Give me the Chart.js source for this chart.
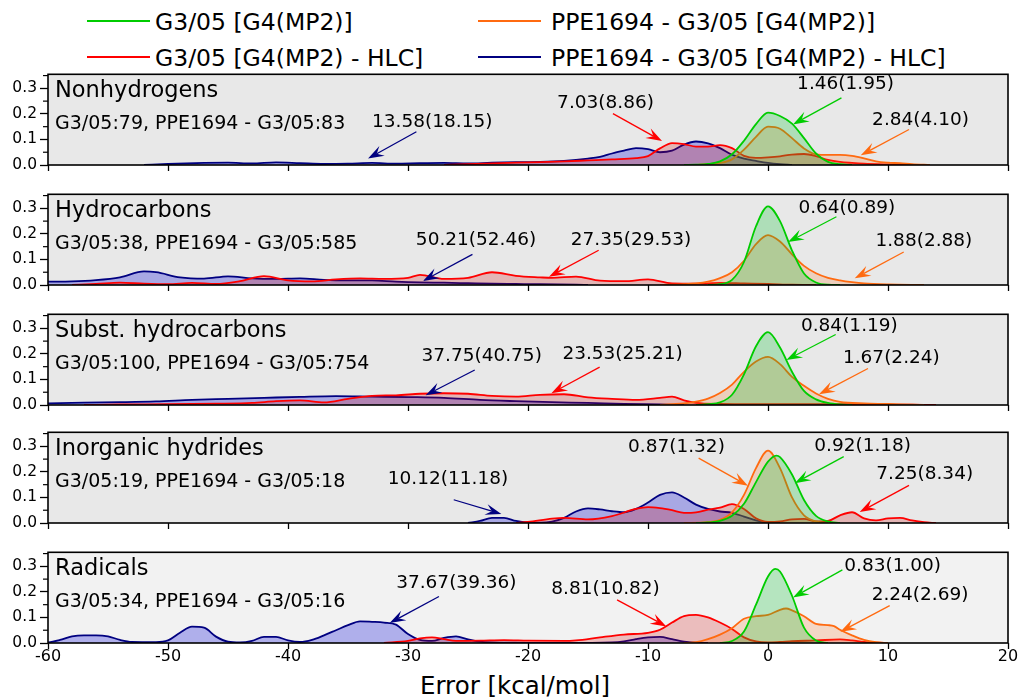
<!DOCTYPE html>
<html>
<head>
<meta charset="utf-8">
<script src="https://cdn.jsdelivr.net/npm/chart.js@4.4.1/dist/chart.umd.min.js"></script>
<style>
  body { margin: 0; width: 1019px; height: 698px; background: #fff; position: relative; overflow: hidden;
         font-family: "DejaVu Sans", sans-serif; color: #000; }
  canvas { position: absolute; left: 0; }
  .leg-line { position: absolute; height: 2px; }
  .leg-text { position: absolute; font-size: 23.5px; line-height: 28px; white-space: nowrap; }
  #xtitle { position: absolute; left: 265px; width: 500px; top: 671px; text-align: center;
            font-size: 24.5px; line-height: 30px; }
</style>
</head>
<body>
<div id="legend"></div>
<div id="xtitle">Error [kcal/mol]</div>
<script>
// ---- data -------------------------------------------------------------
const panelNames = ['Nonhydrogens', 'Hydrocarbons', 'Subst. hydrocarbons', 'Inorganic hydrides', 'Radicals'];
const g3Counts  = [79, 38, 100, 19, 34];
const ppeCounts = [83, 585, 754, 18, 16];

const seriesNames = ['G3/05 [G4(MP2)]', 'PPE1694 - G3/05 [G4(MP2)]',
                     'G3/05 [G4(MP2) - HLC]', 'PPE1694 - G3/05 [G4(MP2) - HLC]'];

// MAE (RMSE) per panel, kcal/mol
const g3Mae     = [1.46, 0.64, 0.84, 0.92, 0.83];
const g3Rmse    = [1.95, 0.89, 1.19, 1.18, 1.00];
const ppeMae    = [2.84, 1.88, 1.67, 0.87, 2.24];
const ppeRmse   = [4.10, 2.88, 2.24, 1.32, 2.69];
const g3HlcMae  = [7.03, 27.35, 23.53, 7.25, 8.81];
const g3HlcRmse = [8.86, 29.53, 25.21, 8.34, 10.82];
const ppeHlcMae  = [13.58, 50.21, 37.75, 10.12, 37.67];
const ppeHlcRmse = [18.15, 52.46, 40.75, 11.18, 39.36];

// error densities, [error, density]
const nonhG3 = [[-7,0],[-6,0.001],[-5,0.004],[-4,0.014],[-3,0.042],[-2,0.095],[-1,0.16],[0,0.205],[1,0.192],[2,0.162],[3,0.105],[4,0.045],[5,0.012],[6,0.003],[7,0]];
const nonhPpe = [[-6,0],[-5,0.003],[-4,0.008],[-3,0.022],[-2,0.06],[-1,0.11],[0,0.15],[1,0.142],[2,0.105],[3,0.065],[4,0.042],[5,0.04],[6,0.04],[7,0.036],[8,0.026],[9,0.014],[10,0.009],[11,0.007],[12,0.003],[13.5,0]];
const nonhG3Hlc = [[-27,0],[-25,0.003],[-23,0.006],[-21,0.009],[-19,0.011],[-17,0.014],[-15,0.018],[-13,0.022],[-11,0.027],[-10,0.035],[-9,0.065],[-8,0.086],[-7,0.082],[-6,0.072],[-5,0.072],[-4,0.078],[-3,0.066],[-2,0.036],[-1,0.028],[0,0.03],[1,0.034],[2,0.041],[3,0.043],[4,0.035],[5,0.02],[6,0.012],[7,0.008],[8,0.005],[10,0.002],[12,0]];
const nonhPpeHlc = [[-52,0],[-50,0.004],[-47,0.008],[-45,0.009],[-43,0.006],[-41,0.01],[-39,0.007],[-37,0.004],[-35,0.005],[-33,0.008],[-31,0.005],[-29,0.007],[-27,0.008],[-25,0.006],[-23,0.009],[-21,0.011],[-19,0.012],[-17,0.016],[-15,0.025],[-14,0.032],[-13,0.045],[-12,0.056],[-11,0.066],[-10,0.062],[-9,0.05],[-8,0.056],[-7,0.08],[-6,0.092],[-5,0.085],[-4,0.066],[-3,0.04],[-2,0.025],[-1,0.016],[0,0.008],[1,0.003],[2,0]];

const hydG3 = [[-5,0],[-4,0.003],[-3,0.02],[-2,0.09],[-1,0.23],[0,0.308],[1,0.25],[2,0.135],[3,0.045],[4,0.01],[5,0.001],[6,0]];
const hydPpe = [[-9,0],[-7,0.003],[-6,0.006],[-5,0.013],[-4,0.027],[-3,0.05],[-2,0.095],[-1,0.16],[0,0.195],[1,0.17],[2,0.12],[3,0.075],[4,0.046],[5,0.028],[6,0.018],[7,0.011],[8,0.006],[10,0.002],[13,0]];
const hydG3Hlc = [[-58,0],[-56,0.004],[-54,0.009],[-52,0.005],[-50,0.003],[-48,0.008],[-46,0.004],[-44,0.015],[-42,0.035],[-40,0.018],[-38,0.014],[-36,0.022],[-34,0.026],[-32,0.024],[-30,0.028],[-29,0.04],[-27,0.024],[-25,0.028],[-23,0.05],[-21,0.036],[-19,0.03],[-18,0.028],[-16,0.033],[-14,0.017],[-12,0.015],[-10,0.022],[-8,0.006],[-6,0.005],[-4,0.008],[-2,0.006],[0,0.004],[2,0.001],[4,0]];
const hydPpeHlc = [[-60,0.013],[-58,0.014],[-56,0.019],[-54,0.03],[-52,0.053],[-51,0.05],[-49,0.03],[-47,0.025],[-45,0.034],[-43,0.026],[-41,0.024],[-39,0.026],[-37,0.02],[-35,0.018],[-33,0.018],[-31,0.013],[-29,0.01],[-27,0.009],[-25,0.007],[-23,0.005],[-21,0.004],[-19,0.003],[-16,0.001],[-15,0]];

const subG3 = [[-6,0],[-5,0.003],[-4,0.01],[-3,0.04],[-2,0.12],[-1,0.23],[0,0.285],[1,0.225],[2,0.13],[3,0.055],[4,0.022],[5,0.008],[6,0.002],[7,0]];
const subPpe = [[-9,0],[-8,0.003],[-7,0.006],[-6,0.013],[-5,0.025],[-4,0.047],[-3,0.08],[-2,0.13],[-1,0.17],[0,0.188],[1,0.16],[2,0.11],[3,0.075],[4,0.045],[5,0.024],[6,0.012],[8,0.006],[10,0.004],[12,0.001],[13,0]];
const subG3Hlc = [[-57,0],[-54,0.002],[-50,0.003],[-46,0.005],[-43,0.008],[-41,0.015],[-39,0.018],[-37,0.01],[-35,0.024],[-33,0.036],[-31,0.038],[-29,0.044],[-27,0.046],[-25,0.044],[-23,0.036],[-21,0.033],[-19,0.04],[-17,0.042],[-15,0.03],[-13,0.024],[-11,0.02],[-9,0.028],[-8,0.033],[-7,0.018],[-6,0.008],[-4,0.004],[0,0.003],[4,0.003],[8,0.003],[12,0.001],[14,0]];
const subPpeHlc = [[-60,0.006],[-57,0.009],[-54,0.011],[-51,0.014],[-48,0.02],[-45,0.024],[-42,0.028],[-39,0.032],[-36,0.035],[-33,0.033],[-30,0.031],[-27,0.028],[-24,0.02],[-21,0.015],[-18,0.011],[-15,0.008],[-12,0.004],[-9,0.002],[-7,0]];

const inoG3 = [[-6,0],[-5,0.002],[-4,0.008],[-3,0.028],[-2,0.075],[-1,0.16],[0,0.24],[0.7,0.264],[1,0.258],[2,0.19],[3,0.09],[4,0.028],[5,0.006],[6,0]];
const inoPpe = [[-7,0],[-5,0.003],[-4,0.012],[-3,0.042],[-2,0.11],[-1,0.215],[0,0.283],[1,0.215],[2,0.1],[3,0.03],[4,0.006],[5,0]];
const inoG3Hlc = [[-21,0],[-20,0.004],[-18,0.017],[-17,0.02],[-15,0.014],[-13,0.027],[-11,0.055],[-10,0.062],[-9,0.058],[-8,0.05],[-7,0.04],[-6,0.042],[-5,0.052],[-4,0.06],[-3,0.074],[-2,0.055],[-1,0.018],[0,0.004],[1,0.006],[2,0.014],[3,0.016],[4,0.006],[5,0.008],[6,0.03],[7,0.042],[8,0.018],[9,0.01],[10,0.018],[11,0.02],[12,0.01],[13,0.003],[14,0]];
const inoPpeHlc = [[-25,0],[-24,0.008],[-23,0.02],[-22,0.02],[-21,0.008],[-20,0.002],[-19,0.001],[-18,0.005],[-17,0.02],[-16,0.045],[-15,0.057],[-14,0.053],[-13,0.046],[-12,0.042],[-11,0.055],[-10,0.08],[-9,0.11],[-8,0.12],[-7,0.1],[-6,0.072],[-5,0.055],[-4,0.045],[-3,0.04],[-2,0.025],[-1,0.01],[0,0.002],[1,0]];

const radG3 = [[-4,0],[-3,0.008],[-2,0.045],[-1,0.15],[0,0.26],[0.6,0.29],[1,0.28],[2,0.185],[3,0.06],[4,0.01],[5,0]];
const radPpe = [[-7,0],[-6,0.003],[-5,0.015],[-4,0.033],[-3,0.058],[-2,0.095],[-1,0.105],[0,0.11],[1,0.13],[1.5,0.135],[2,0.128],[3,0.105],[4,0.075],[5,0.07],[5.5,0.066],[6,0.052],[7,0.03],[8,0.012],[9,0.003],[10,0]];
const radG3Hlc = [[-32,0],[-30,0.008],[-29,0.018],[-28,0.022],[-27,0.015],[-26,0.008],[-24,0.009],[-22,0.011],[-20,0.009],[-17,0.008],[-16,0.01],[-14,0.022],[-12,0.033],[-10,0.04],[-9,0.052],[-8,0.08],[-7,0.105],[-6,0.11],[-5,0.1],[-4,0.08],[-3,0.055],[-2,0.022],[-1,0.006],[0,0.002],[1,0.004],[2,0.007],[4,0.01],[6,0.014],[7,0.01],[8,0.004],[9,0.001],[10,0]];
const radPpeHlc = [[-61,0],[-60,0.002],[-59,0.012],[-58,0.026],[-57,0.03],[-56,0.03],[-55,0.026],[-54,0.012],[-53,0.004],[-51,0.003],[-50,0.01],[-49,0.04],[-48,0.064],[-47,0.06],[-46,0.025],[-45,0.005],[-44,0.002],[-43,0.008],[-42,0.024],[-41,0.024],[-40,0.01],[-39,0.004],[-38,0.012],[-37,0.03],[-36,0.05],[-35,0.07],[-34,0.085],[-33,0.083],[-32,0.08],[-31,0.072],[-30,0.035],[-29,0.012],[-28,0.008],[-27,0.02],[-26,0.026],[-25,0.014],[-24,0.005],[-23,0.002],[-21,0.001],[-17,0],[-13,0.002],[-12,0.006],[-11,0.015],[-10,0.022],[-9,0.024],[-8,0.015],[-7,0.005],[-6,0.001],[-5,0]];

// ---- layout & style ------------------------------------------------------
const panelSeries = [
  [nonhG3, nonhPpe, nonhG3Hlc, nonhPpeHlc],
  [hydG3, hydPpe, hydG3Hlc, hydPpeHlc],
  [subG3, subPpe, subG3Hlc, subPpeHlc],
  [inoG3, inoPpe, inoG3Hlc, inoPpeHlc],
  [radG3, radPpe, radG3Hlc, radPpeHlc]
];
const panelTops = [74, 194, 314, 432, 552];
const panelBg = ['#e8e8e8', '#e8e8e8', '#e8e8e8', '#e8e8e8', '#f2f2f2'];
const AREA_H = 91, PAD_TOP = 12, AXIS_W = 48, PAD_RIGHT = 11;
const FONT = '"DejaVu Sans", sans-serif';

const lineColors = ['#00cc00', '#ff6a10', '#ff0000', '#000080'];
const fillColors = ['rgba(0,190,40,0.25)', 'rgba(255,110,20,0.2)', 'rgba(210,0,0,0.22)', 'rgba(20,20,220,0.3)'];

// label placement in data units: [textX, textY, arrowFromX, arrowFromY, arrowToX, arrowToY]
const labelPlacement = [
  [[6.46,0.315, 6.12,0.263, 2.08,0.159], [12.71,0.175, 11.75,0.139, 7.73,0.038], [-13.54,0.240, -12.92,0.201, -8.83,0.094], [-27.98,0.166, -29.3,0.130, -33.33,0.025]],
  [[6.57,0.301, 5.7,0.267, 1.67,0.168], [12.99,0.172, 11.31,0.129, 7.23,0.026], [-11.42,0.177, -14.11,0.136, -18.25,0.032], [-24.33,0.177, -24.63,0.12, -28.75,0.016]],
  [[6.78,0.307, 5.64,0.276, 1.53,0.176], [10.28,0.182, 8.33,0.143, 4.25,0.042], [-12.12,0.198, -14.03,0.148, -18.05,0.046], [-23.86,0.191, -24.44,0.137, -28.53,0.038]],
  [[7.89,0.299, 6.31,0.26, 2.23,0.156], [-7.63,0.296, -5.78,0.254, -1.67,0.146], [13.06,0.192, 11.75,0.147, 7.64,0.043], [-26.67,0.172, -26.19,0.091, -22.22,0.035]],
  [[10.39,0.30, 6.2,0.286, 2.08,0.178], [12.67,0.187, 10.14,0.146, 6.03,0.044], [-13.54,0.209, -12.58,0.169, -8.47,0.065], [-25.97,0.234, -27.42,0.182, -31.53,0.078]]
];
const arrowColors = ['#00cc00', '#ff6a10', '#ff0000', '#000080'];

// ---- legend (HTML) -------------------------------------------------------
const legendSlots = [[87, 21, 155], [478, 21, 551], [87, 57, 155], [478, 57, 551]];
const legendEl = document.getElementById('legend');
seriesNames.forEach((name, k) => {
  const [lx, ly, tx] = legendSlots[k];
  const line = document.createElement('div');
  line.className = 'leg-line';
  line.style.cssText = `left:${lx}px;top:${ly - 1}px;width:63px;background:${lineColors[k]}`;
  const txt = document.createElement('div');
  txt.className = 'leg-text';
  txt.style.cssText = `left:${tx}px;top:${ly - 13}px`;
  txt.textContent = name;
  legendEl.appendChild(line);
  legendEl.appendChild(txt);
});

// ---- drawing helpers -----------------------------------------------------
function drawArrow(ctx, x1, y1, x2, y2, color) {
  const ang = Math.atan2(y2 - y1, x2 - x1);
  const c = Math.cos(ang), s = Math.sin(ang);
  const L = 16, W = 5.5;
  const bx = x2 - L * c, by = y2 - L * s;
  const nx = x2 - 0.62 * L * c, ny = y2 - 0.62 * L * s;
  ctx.strokeStyle = color; ctx.fillStyle = color; ctx.lineWidth = 1.3;
  ctx.beginPath(); ctx.moveTo(x1, y1); ctx.lineTo(nx, ny); ctx.stroke();
  ctx.beginPath();
  ctx.moveTo(x2, y2);
  ctx.lineTo(bx - W * s, by + W * c);
  ctx.lineTo(nx, ny);
  ctx.lineTo(bx + W * s, by - W * c);
  ctx.closePath(); ctx.fill();
}

const panelDecor = {
  id: 'panelDecor',
  beforeDraw(chart, args, opts) {
    const { ctx, chartArea: a } = chart;
    ctx.save();
    ctx.fillStyle = opts.bg;
    ctx.fillRect(a.left, a.top, a.right - a.left, a.bottom - a.top);
    ctx.restore();
  },
  afterDraw(chart, args, opts) {
    const { ctx, chartArea: a, scales } = chart;
    ctx.save();
    // minor y ticks
    ctx.strokeStyle = '#000'; ctx.lineWidth = 1.2;
    [0.05, 0.15, 0.25, 0.35].forEach(v => {
      const y = scales.y.getPixelForValue(v);
      ctx.beginPath(); ctx.moveTo(a.left - 5, y); ctx.lineTo(a.left, y); ctx.stroke();
    });
    // frame
    ctx.lineWidth = 1.6;
    ctx.strokeRect(a.left, a.top, a.right - a.left, a.bottom - a.top);
    // panel title and sample counts
    ctx.fillStyle = '#000'; ctx.textAlign = 'left'; ctx.textBaseline = 'alphabetic';
    ctx.font = `22.5px ${FONT}`;
    ctx.fillText(opts.title, a.left + 7, a.top + 23);
    ctx.font = `19px ${FONT}`;
    ctx.fillText(opts.subtitle, a.left + 7, a.top + 55);
    // MAE(RMSE) labels with arrows
    ctx.font = `18.5px ${FONT}`; ctx.textAlign = 'center'; ctx.textBaseline = 'middle';
    opts.notes.forEach(n => {
      const px = v => scales.x.getPixelForValue(v), py = v => scales.y.getPixelForValue(v);
      ctx.fillStyle = '#000';
      ctx.fillText(n.text, px(n.at[0]), py(n.at[1]));
      drawArrow(ctx, px(n.at[2]), py(n.at[3]), px(n.at[4]), py(n.at[5]), n.color);
    });
    ctx.restore();
  }
};

const fmt = (m, r) => `${m.toFixed(2)}(${r.toFixed(2)})`;

panelSeries.forEach((series, i) => {
  const isLast = i === panelSeries.length - 1;
  const xh = isLast ? 40 : 18;
  const canvas = document.createElement('canvas');
  canvas.width = 1019;
  canvas.height = PAD_TOP + AREA_H + xh;
  canvas.style.top = (panelTops[i] - PAD_TOP) + 'px';
  document.body.appendChild(canvas);

  const texts = [fmt(g3Mae[i], g3Rmse[i]), fmt(ppeMae[i], ppeRmse[i]),
                 fmt(g3HlcMae[i], g3HlcRmse[i]), fmt(ppeHlcMae[i], ppeHlcRmse[i])];
  const notes = texts.map((t, k) => ({ text: t, at: labelPlacement[i][k], color: arrowColors[k] }));

  new Chart(canvas, {
    type: 'line',
    data: {
      datasets: series.map((pts, k) => ({
        label: seriesNames[k],
        data: pts.map(([x, y]) => ({ x, y })),
        borderColor: lineColors[k],
        backgroundColor: fillColors[k],
        borderWidth: 1.8,
        fill: 'origin',
        pointRadius: 0,
        cubicInterpolationMode: 'monotone'
      }))
    },
    options: {
      responsive: false,
      animation: false,
      devicePixelRatio: 1,
      layout: { padding: { top: PAD_TOP, left: 0, right: PAD_RIGHT, bottom: 0 } },
      plugins: {
        legend: { display: false },
        tooltip: { enabled: false },
        panelDecor: {
          bg: panelBg[i],
          title: panelNames[i],
          subtitle: `G3/05:${g3Counts[i]}, PPE1694 - G3/05:${ppeCounts[i]}`,
          notes
        }
      },
      scales: {
        x: {
          type: 'linear', min: -60, max: 20,
          ticks: { stepSize: 10, display: isLast, color: '#000', padding: -2, maxRotation: 0,
                   font: { family: FONT, size: 16 } },
          grid: { drawOnChartArea: false, tickLength: 6, tickColor: '#000', tickWidth: 1.3 },
          border: { display: false },
          afterFit(s) { s.height = xh; }
        },
        y: {
          min: 0, max: 0.355,
          ticks: { stepSize: 0.1, includeBounds: false, color: '#000', padding: 3,
                   font: { family: FONT, size: 15.5 }, callback: v => v.toFixed(1) },
          grid: { drawOnChartArea: false, tickLength: 8, tickColor: '#000', tickWidth: 1.3 },
          border: { display: false },
          afterFit(s) { s.width = AXIS_W; }
        }
      }
    },
    plugins: [panelDecor]
  });
});
</script>
</body>
</html>
